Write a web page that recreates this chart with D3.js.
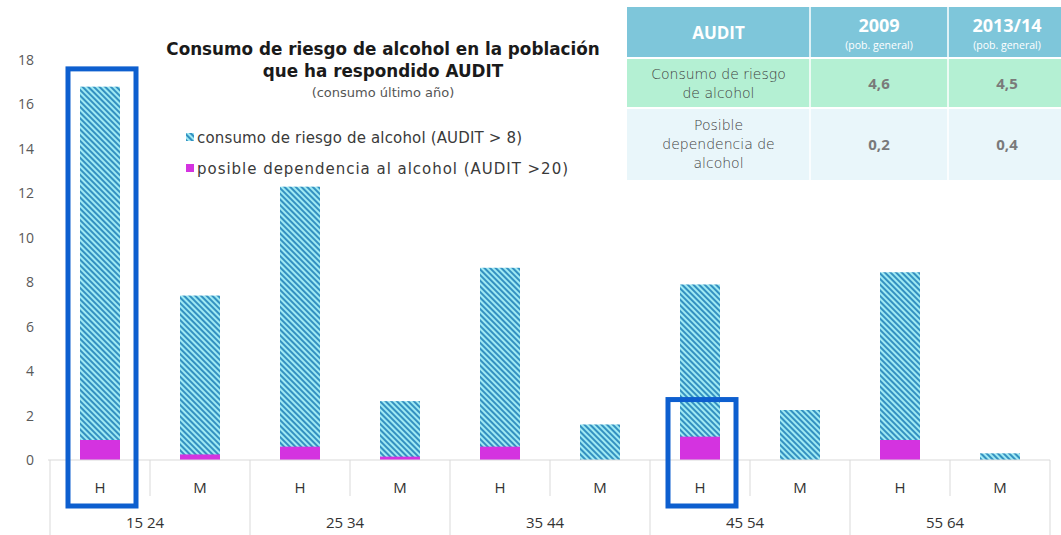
<!DOCTYPE html>
<html>
<head>
<meta charset="utf-8">
<script src="https://cdn.jsdelivr.net/npm/d3@7"></script>
<style>
  body { margin: 0; background: #fff; }
  svg { display: block; font-family: "Open Sans", "Noto Sans", sans-serif; }
</style>
</head>
<body>
<svg id="chart" width="1061" height="535"></svg>
<script>
// chart data
const groups = ["15 24", "25 34", "35 44", "45 54", "55 64"]
const sexes = ["H", "M"]
const riesgo = [16.8, 7.4, 12.3, 2.65, 8.65, 1.6, 7.9, 2.25, 8.45, 0.3]       // AUDIT > 8
const dependencia = [0.9, 0.25, 0.6, 0.15, 0.6, 0, 1.05, 0, 0.9, 0]          // AUDIT > 20
const yTicks = [0, 2, 4, 6, 8, 10, 12, 14, 16, 18]
const legendLabels = ["consumo de riesgo de alcohol (AUDIT > 8)", "posible dependencia al alcohol (AUDIT >20)"]
// highlighted bars: index and top of the box (in axis units)
const highlights = [{i: 0, top: 17.6}, {i: 6, top: 2.72}]

// table data
const tableYears = ["2009", "2013/14"]
const tableSub = "(pob. general)"
const tableRows = [["Consumo de riesgo", "de alcohol"], ["Posible", "dependencia de", "alcohol"]]
const tableValues = [["4,6", "4,5"], ["0,2", "0,4"]]

const cats = []
groups.forEach(g => sexes.forEach(s => cats.push({group: g, sex: s})))

const wide = "\"DejaVu Sans\", sans-serif"
const svg = d3.select("#chart")

// hatch pattern for the risk series
const defs = svg.append("defs")
const pat = defs.append("pattern")
    .attr("id", "hatch")
    .attr("patternUnits", "userSpaceOnUse")
    .attr("width", 4).attr("height", 4)
    .attr("patternTransform", "rotate(-45)")
pat.append("rect").attr("width", 4).attr("height", 4).attr("fill", "#9feaf3")
pat.append("line")
    .attr("x1", 1).attr("y1", 0).attr("x2", 1).attr("y2", 4)
    .attr("stroke", "#2e8cbf").attr("stroke-width", 1.9)

var x = d3.scaleBand().domain(d3.range(cats.length)).range([50, 1050])
    .paddingInner(0.6).paddingOuter(0.3)
var y = d3.scaleLinear().domain([0, 18]).range([460, 60])

// table (top right)
const tbl = svg.append("g")
const colX = [627, 810, 948, 1070]
const rowY = [7, 58, 108, 180]
tbl.append("rect").attr("x", colX[0]).attr("y", rowY[0]).attr("width", colX[3] - colX[0]).attr("height", rowY[1] - rowY[0]).attr("fill", "#7ec6da")
tbl.append("rect").attr("x", colX[0]).attr("y", rowY[1]).attr("width", colX[3] - colX[0]).attr("height", rowY[2] - rowY[1]).attr("fill", "#b4f0d3")
tbl.append("rect").attr("x", colX[0]).attr("y", rowY[2]).attr("width", colX[3] - colX[0]).attr("height", rowY[3] - rowY[2]).attr("fill", "#e9f6fa")
;[colX[1], colX[2]].forEach(cx => {
    tbl.append("line").attr("x1", cx).attr("x2", cx).attr("y1", rowY[0]).attr("y2", rowY[3])
        .attr("stroke", "#fff").attr("stroke-width", 1.5)
})
tbl.append("line").attr("x1", colX[0]).attr("x2", colX[3]).attr("y1", rowY[1]).attr("y2", rowY[1]).attr("stroke", "#fff").attr("stroke-width", 2)
tbl.append("line").attr("x1", colX[0]).attr("x2", colX[3]).attr("y1", rowY[2]).attr("y2", rowY[2]).attr("stroke", "#fff").attr("stroke-width", 2)

tbl.append("text").attr("x", (colX[0] + colX[1]) / 2).attr("y", 39)
    .attr("text-anchor", "middle").attr("fill", "#fff").attr("font-weight", "bold").attr("font-size", 17)
    .text("AUDIT")
tableYears.forEach((yr, j) => {
    const cx = j === 0 ? 879 : 1007
    tbl.append("text").attr("x", cx).attr("y", 32).attr("text-anchor", "middle")
        .attr("fill", "#fff").attr("font-weight", "bold").attr("font-size", 18).text(yr)
    tbl.append("text").attr("x", cx).attr("y", 49).attr("text-anchor", "middle")
        .attr("fill", "#fff").attr("font-size", 10.5).text(tableSub)
})
tableRows.forEach((lines, r) => {
    const mid = (rowY[r + 1] + rowY[r + 2]) / 2
    const lh = 19
    lines.forEach((ln, k) => {
        tbl.append("text").attr("x", (colX[0] + colX[1]) / 2)
            .attr("y", mid + (k - (lines.length - 1) / 2) * lh + 5)
            .attr("text-anchor", "middle").attr("fill", "#404040").attr("font-size", 14)
            .attr("font-family", wide).attr("font-weight", 300).text(ln)
    })
    tableValues[r].forEach((v, j) => {
        tbl.append("text").attr("x", j === 0 ? 879 : 1007).attr("y", mid + 6)
            .attr("text-anchor", "middle").attr("fill", "#7a7a7a").attr("font-weight", "bold")
            .attr("font-size", 15).text(v)
    })
})

// title
const title = svg.append("g").attr("text-anchor", "middle").attr("font-family", wide)
title.append("text").attr("x", 383).attr("y", 55).attr("font-weight", "bold").attr("font-size", 16.8)
    .attr("fill", "#1a1a1a").text("Consumo de riesgo de alcohol en la población")
title.append("text").attr("x", 383).attr("y", 77).attr("font-weight", "bold").attr("font-size", 16.8)
    .attr("fill", "#1a1a1a").text("que ha respondido AUDIT")
title.append("text").attr("x", 383).attr("y", 97).attr("font-size", 13)
    .attr("fill", "#555").text("(consumo último año)")

// legend
const legendWidths = [325, 371]
const legend = svg.append("g").attr("transform", "translate(186,0)").attr("font-family", wide)
legendLabels.forEach((lab, k) => {
    const ly = 143 + k * 31
    legend.append("rect").attr("x", 0).attr("y", ly - 10).attr("width", 8).attr("height", 8)
        .attr("fill", k === 0 ? "url(#hatch)" : "#d433e0")
    legend.append("text").attr("x", 11).attr("y", ly).attr("font-size", 15)
        .attr("textLength", legendWidths[k]).attr("lengthAdjust", "spacing")
        .attr("fill", "#3a3a3a").text(lab)
})

// bars
svg.append("g").selectAll("rect").data(riesgo).join("rect")
    .attr("x", (d, i) => x(i))
    .attr("y", d => y(d))
    .attr("width", x.bandwidth())
    .attr("height", d => y(0) - y(d))
    .attr("fill", "url(#hatch)")

svg.append("g").selectAll("rect").data(dependencia).join("rect")
    .attr("x", (d, i) => x(i))
    .attr("y", d => y(d))
    .attr("width", x.bandwidth())
    .attr("height", d => y(0) - y(d))
    .attr("fill", "#d433e0")

// y axis (labels only)
const yAxis = d3.axisLeft(y).tickValues(yTicks).tickSize(0).tickPadding(4)
const gY = svg.append("g").attr("transform", "translate(38,0)").call(yAxis)
gY.select(".domain").remove()
gY.selectAll("text").attr("font-size", 14).attr("fill", "#595959")
    .attr("font-family", "\"Open Sans\", sans-serif")

// multi-level category axis
const axis = svg.append("g")
const half = (x.step() - x.bandwidth()) / 2
axis.append("line").attr("x1", 48).attr("x2", 1050).attr("y1", y(0)).attr("y2", y(0))
    .attr("stroke", "#d9d9d9")
d3.range(cats.length + 1).forEach(i => {
    const bx = i < cats.length ? x(i) - half : x(i - 1) + x.bandwidth() + half
    axis.append("line").attr("x1", bx).attr("x2", bx).attr("y1", y(0))
        .attr("y2", i % 2 === 0 ? 535 : 496).attr("stroke", "#d9d9d9")
})
axis.selectAll(".sex").data(cats).join("text")
    .attr("class", "sex")
    .attr("x", (d, i) => x(i) + x.bandwidth() / 2)
    .attr("y", 493)
    .attr("text-anchor", "middle").attr("font-size", 15).attr("fill", "#333")
    .text(d => d.sex)
axis.selectAll(".grp").data(groups).join("text")
    .attr("class", "grp")
    .attr("x", (d, i) => (x(i * 2) + x(i * 2 + 1) + x.bandwidth()) / 2 - 5)
    .attr("y", 528)
    .attr("text-anchor", "middle").attr("font-size", 15).attr("fill", "#333")
    .text(d => d)

// highlight boxes
svg.append("g").selectAll("rect").data(highlights).join("rect")
    .attr("x", d => x(d.i) - 12)
    .attr("y", d => y(d.top))
    .attr("width", x.bandwidth() + 28)
    .attr("height", d => 506 - y(d.top))
    .attr("fill", "none")
    .attr("stroke", "#0d5fcf")
    .attr("stroke-width", 5)
</script>
</body>
</html>
